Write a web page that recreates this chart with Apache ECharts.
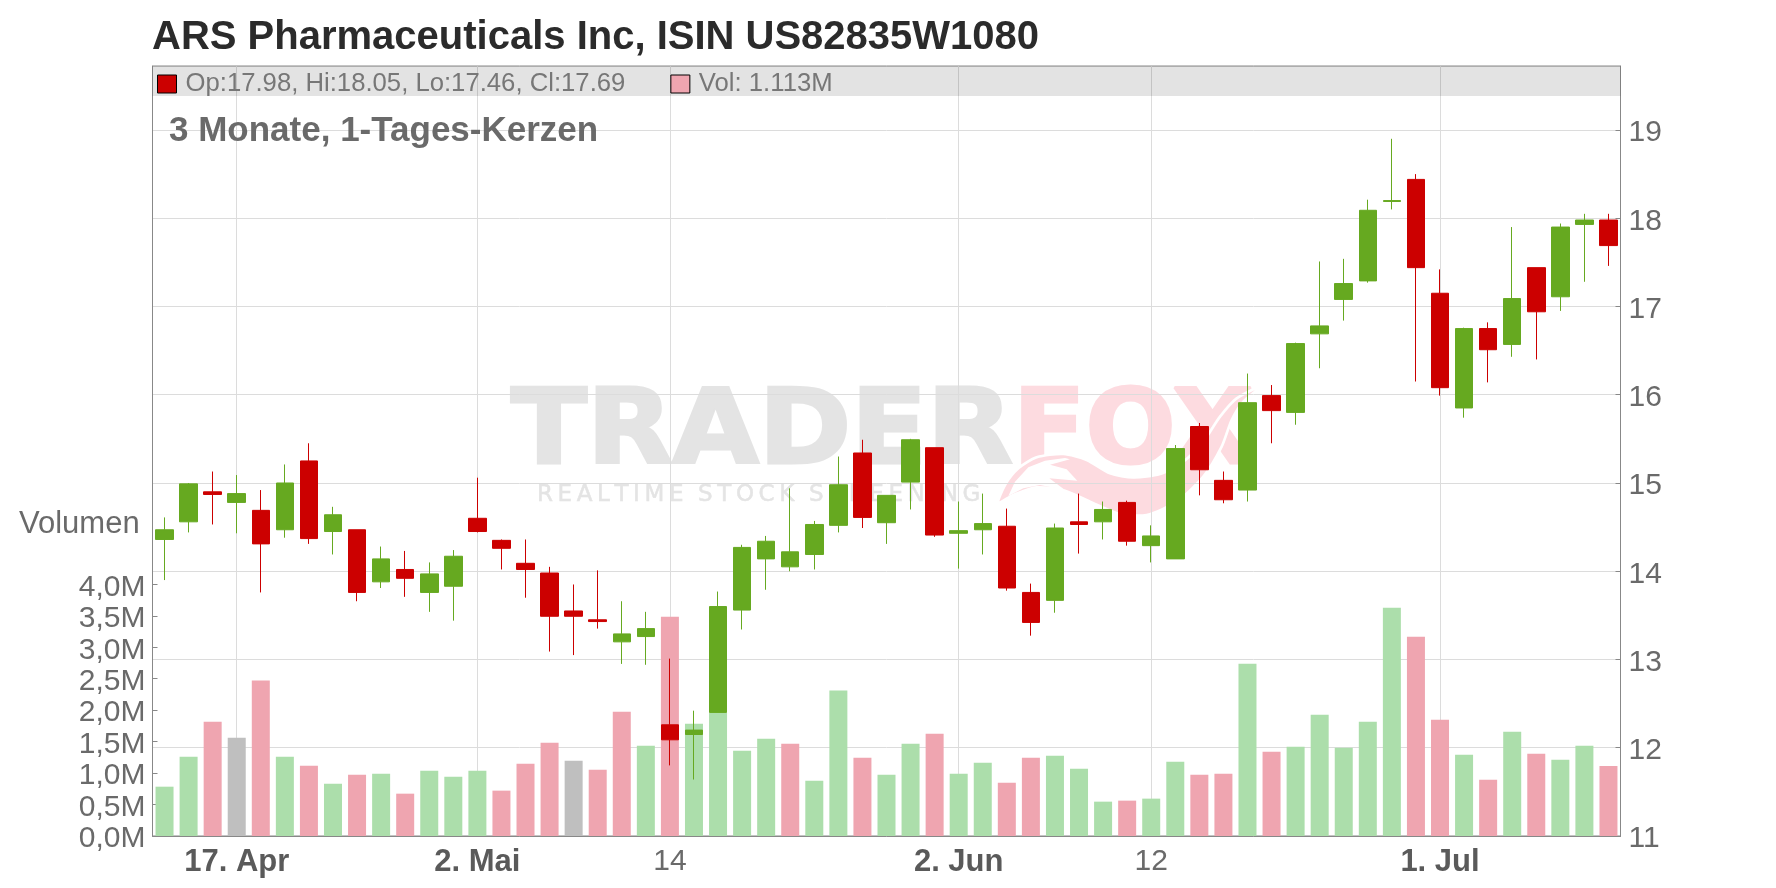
<!DOCTYPE html>
<html>
<head>
<meta charset="utf-8">
<title>ARS Pharmaceuticals Inc</title>
<script src="https://cdn.jsdelivr.net/npm/echarts@6/dist/echarts.min.js"></script>
<style>
  html, body { margin: 0; padding: 0; background: #fff; }
  #main { width: 1776px; height: 888px; }
</style>
</head>
<body>
<div id="main"></div>
<script>
const days = [
  '14. Apr', '15. Apr', '16. Apr', '17. Apr', '21. Apr', '22. Apr', '23. Apr', '24. Apr', '25. Apr', '28. Apr',
  '29. Apr', '30. Apr', '1. Mai', '2. Mai', '5. Mai', '6. Mai', '7. Mai', '8. Mai', '9. Mai', '12. Mai',
  '13. Mai', '14. Mai', '15. Mai', '16. Mai', '19. Mai', '20. Mai', '21. Mai', '22. Mai', '23. Mai', '27. Mai',
  '28. Mai', '29. Mai', '30. Mai', '2. Jun', '3. Jun', '4. Jun', '5. Jun', '6. Jun', '9. Jun', '10. Jun',
  '11. Jun', '12. Jun', '13. Jun', '16. Jun', '17. Jun', '18. Jun', '20. Jun', '23. Jun', '24. Jun', '25. Jun',
  '26. Jun', '27. Jun', '30. Jun', '1. Jul', '2. Jul', '3. Jul', '7. Jul', '8. Jul', '9. Jul', '10. Jul', '11. Jul'
];
const opens = [
  14.36, 14.56, 14.90, 14.78, 14.69, 14.47, 15.25, 14.45, 14.47, 13.88,
  14.02, 13.76, 13.83, 14.60, 14.35, 14.09, 13.98, 13.55, 13.45, 13.20,
  13.26, 12.26, 12.15, 12.40, 13.56, 14.14, 14.05, 14.19, 14.52, 15.34,
  14.55, 15.01, 15.40, 14.43, 14.47, 14.51, 13.76, 13.67, 14.56, 14.56,
  14.78, 14.29, 14.14, 15.64, 15.03, 14.92, 15.99, 15.80, 16.69, 17.08,
  17.29, 18.19, 18.44, 17.15, 15.85, 16.75, 16.57, 17.44, 17.11, 17.93, 17.98
];
const closes = [
  14.47, 14.99, 14.87, 14.88, 14.31, 15.00, 14.37, 14.64, 13.76, 14.14,
  13.92, 13.97, 14.17, 14.45, 14.26, 14.02, 13.49, 13.49, 13.43, 13.29,
  13.35, 12.09, 12.20, 13.60, 14.27, 14.34, 14.22, 14.53, 14.98, 14.61,
  14.86, 15.49, 14.41, 14.46, 14.54, 13.81, 13.42, 14.49, 14.53, 14.70,
  14.34, 14.40, 15.39, 15.15, 14.81, 15.91, 15.82, 16.58, 16.78, 17.26,
  18.09, 18.20, 17.44, 16.08, 16.75, 16.51, 17.09, 16.94, 17.90, 17.98, 17.69
];
const lows = [
  13.90, 14.44, 14.53, 14.43, 13.76, 14.38, 14.31, 14.19, 13.66, 13.81,
  13.71, 13.54, 13.44, 14.44, 14.02, 13.70, 13.09, 13.05, 13.35, 12.95,
  12.94, 11.80, 11.64, 12.40, 13.34, 13.79, 14.00, 14.02, 14.44, 14.49,
  14.31, 14.70, 14.39, 14.03, 14.19, 13.78, 13.27, 13.53, 14.20, 14.36,
  14.29, 14.10, 14.14, 14.86, 14.77, 14.79, 15.45, 15.66, 16.30, 16.84,
  17.27, 18.10, 16.15, 15.99, 15.74, 16.14, 16.43, 16.40, 16.95, 17.28, 17.46
];
const highs = [
  14.61, 15.00, 15.13, 15.09, 14.92, 15.21, 15.45, 14.73, 14.47, 14.28,
  14.23, 14.10, 14.24, 15.06, 14.36, 14.36, 14.05, 13.85, 14.01, 13.66,
  13.54, 13.01, 12.42, 13.77, 14.30, 14.40, 14.94, 14.57, 15.30, 15.49,
  14.86, 15.50, 15.40, 14.79, 14.88, 14.71, 13.86, 14.54, 14.88, 14.79,
  14.80, 14.52, 15.43, 15.68, 15.13, 16.24, 16.11, 16.59, 17.51, 17.54,
  18.21, 18.90, 18.50, 17.42, 16.76, 16.82, 17.90, 17.44, 17.94, 18.05, 18.05
];
const volumes = [
  0.784, 1.261, 1.818, 1.563, 2.470, 1.261, 1.118, 0.832, 0.975, 0.991,
  0.673, 1.039, 0.943, 1.039, 0.721, 1.150, 1.484, 1.198, 1.055, 1.977,
  1.436, 3.487, 1.786, 1.961, 1.357, 1.547, 1.468, 0.880, 2.311, 1.245,
  0.975, 1.468, 1.627, 0.991, 1.166, 0.848, 1.245, 1.277, 1.070, 0.546,
  0.562, 0.594, 1.182, 0.975, 0.991, 2.740, 1.341, 1.420, 1.929, 1.404,
  1.818, 3.630, 3.169, 1.849, 1.293, 0.896, 1.659, 1.309, 1.214, 1.436, 1.113
];
// g = up volume, r = down volume, n = neutral
const volumeTones = [
  'g', 'g', 'r', 'n', 'r', 'g', 'r', 'g', 'r', 'g',
  'r', 'g', 'g', 'g', 'r', 'r', 'r', 'n', 'r', 'r',
  'g', 'r', 'g', 'g', 'g', 'g', 'r', 'g', 'g', 'r',
  'g', 'g', 'r', 'g', 'g', 'r', 'r', 'g', 'g', 'g',
  'r', 'g', 'g', 'r', 'r', 'g', 'r', 'g', 'g', 'g',
  'g', 'g', 'r', 'r', 'g', 'r', 'g', 'r', 'g', 'g', 'r'
];
const priceTicks = [11, 12, 13, 14, 15, 16, 17, 18, 19];
const volumeTicks = [0, 0.5, 1, 1.5, 2, 2.5, 3, 3.5, 4];
const boldTicks = ['17. Apr', '2. Mai', '2. Jun', '1. Jul'];
const plainTicks = { '14. Mai': '14', '12. Jun': '12' };

const titleText = 'ARS Pharmaceuticals Inc, ISIN US82835W1080';
const rangeText = '3 Monate, 1-Tages-Kerzen';
const volumeText = 'Volumen';
const ohlcText = 'Op:17.98, Hi:18.05, Lo:17.46, Cl:17.69';
const volText = 'Vol: 1.113M';

const RED = '#cc0000';
const GREEN = '#66a920';
const toneColors = { g: '#acdeab', r: '#efa5b0', n: '#bfbfbf' };
const GRIDLINE = '#dcdcdc';
const FRAME = '#888888';
const FONT = '"Liberation Sans", Arial, sans-serif';

const isTick = (i) => boldTicks.includes(days[i]) || days[i] in plainTicks;

const candles = days.map((d, i) => [opens[i], closes[i], lows[i], highs[i]]);
const volumeBars = days.map((d, i) => ({
  value: volumes[i],
  itemStyle: { color: toneColors[volumeTones[i]] }
}));

const pinkWm = '#fddbe0';
const greyWm = '#e4e4e4';
const option = {
  animation: false,
  backgroundColor: '#fff',
  textStyle: { fontFamily: FONT },
  title: [
    { text: titleText, left: 152, top: 18, padding: 0, textStyle: { fontFamily: FONT, fontSize: 40, fontWeight: 'bold', color: '#2b2b2b' } },
    { text: rangeText, left: 169, top: 114, padding: 0, textStyle: { fontFamily: FONT, fontSize: 35, fontWeight: 'bold', color: '#6a6a6a' } },
    { text: volumeText, left: 19, top: 509, padding: 0, textStyle: { fontFamily: FONT, fontSize: 31, fontWeight: 'normal', color: '#6a6a6a' } }
  ],
  legend: {
    left: 152,
    top: 66,
    selectedMode: false,
    itemWidth: 19,
    itemHeight: 18,
    itemGap: 45,
    textStyle: { fontFamily: FONT, fontSize: 25.7, color: '#777777', padding: [0, 0, 0, 4] },
    data: [
      { name: ohlcText, icon: 'rect', itemStyle: { color: RED, borderColor: '#000', borderWidth: 1 } },
      { name: volText, icon: 'rect', itemStyle: { color: toneColors.r, borderColor: '#000', borderWidth: 1 } }
    ]
  },
  grid: {
    left: 152.5, right: 155.5, top: 66, bottom: 52,
    show: true, borderColor: FRAME, borderWidth: 1, backgroundColor: 'transparent'
  },
  xAxis: {
    type: 'category',
    data: days,
    boundaryGap: true,
    axisLine: { lineStyle: { color: FRAME } },
    axisTick: { alignWithLabel: true, length: 3, interval: (i) => isTick(i), lineStyle: { color: FRAME } },
    splitLine: { show: true, alignWithLabel: true, interval: (i) => isTick(i), lineStyle: { color: GRIDLINE } },
    axisLabel: {
      interval: (i) => isTick(i),
      margin: 11,
      formatter: (v) => (v in plainTicks ? '{n|' + plainTicks[v] + '}' : '{b|' + v + '}'),
      rich: {
        b: { fontFamily: FONT, fontSize: 31, fontWeight: 'bold', color: '#5a5a5a' },
        n: { fontFamily: FONT, fontSize: 30, color: '#6a6a6a' }
      }
    }
  },
  yAxis: [
    {
      type: 'value',
      position: 'right',
      min: 11,
      max: 19.725,
      interval: 1,
      axisLine: { show: true, lineStyle: { color: FRAME } },
      axisTick: { show: true, inside: true, length: 5, customValues: priceTicks, lineStyle: { color: FRAME } },
      splitLine: { show: true, lineStyle: { color: GRIDLINE } },
      axisLabel: { customValues: priceTicks, fontFamily: FONT, fontSize: 30, color: '#6a6a6a', margin: 8, verticalAlign: 'top', lineHeight: 6, formatter: (v) => String(v) }
    },
    {
      type: 'value',
      position: 'left',
      min: 0,
      max: 12.24,
      interval: 0.5,
      axisLine: { show: true, lineStyle: { color: FRAME } },
      axisTick: { show: true, inside: true, length: 5, customValues: volumeTicks, lineStyle: { color: FRAME } },
      splitLine: { show: false },
      axisLabel: { customValues: volumeTicks, fontFamily: FONT, fontSize: 30, color: '#6a6a6a', margin: 7, verticalAlign: 'top', lineHeight: 6, formatter: (v) => v.toFixed(1).replace('.', ',') + 'M' }
    }
  ],
  series: [
    {
      name: volText,
      type: 'bar',
      yAxisIndex: 1,
      barWidth: 18,
      z: 2,
      silent: true,
      data: volumeBars
    },
    {
      name: ohlcText,
      type: 'candlestick',
      yAxisIndex: 0,
      barWidth: 18,
      z: 3,
      silent: true,
      itemStyle: { color: GREEN, color0: RED, borderColor: GREEN, borderColor0: RED, borderWidth: 1 },
      data: candles
    }
  ],
  graphic: [
    // legend strip over the gridlines
    { type: 'rect', z: 1, silent: true, shape: { x: 152.5, y: 66, width: 1468, height: 30 }, style: { fill: 'rgba(0,0,0,0.11)' } },
    // watermark
    { type: 'text', z: -10, silent: true, x: 511, y: 384, scaleX: 1.07, style: { text: 'TRADER', font: 'bold 104px "DejaVu Sans"', fill: greyWm, stroke: greyWm, lineWidth: 3 } },
    { type: 'text', z: -10, silent: true, x: 1013, y: 384, scaleX: 1.02, style: { text: 'FOX', font: 'bold 104px "DejaVu Sans"', fill: pinkWm, stroke: pinkWm, lineWidth: 3 } },
    { type: 'text', z: -10, silent: true, x: 537, y: 484, style: { text: 'R\u2009E\u2009A\u2009L\u2009T\u2009I\u2009M\u2009E  S\u2009T\u2009O\u2009C\u2009K  S\u2009C\u2009R\u2009E\u2009E\u2009N\u2009I\u2009N\u2009G', font: '23px "DejaVu Sans"', fill: '#e4e4e4', stroke: '#e4e4e4', lineWidth: 0.5 } },
    {
      type: 'group', x: 990, y: 370, scaleX: 1 / 3, scaleY: 1 / 3, silent: true,
      children: [
        {
          type: 'polygon', z: -9, silent: true,
          shape: { smooth: 0.25, points: [[25, 398], [45, 345], [85, 295], [140, 262], [220, 252], [290, 270], [360, 310], [430, 322], [510, 312], [580, 275], [640, 215], [690, 140], [740, 85], [815, 48], [760, 95], [725, 150], [695, 230], [640, 320], [560, 395], [470, 435], [390, 432], [300, 395], [225, 362], [140, 352], [70, 375]] },
          style: { fill: pinkWm, stroke: '#fff', lineWidth: 8 }
        },
        {
          type: 'polygon', z: -8, silent: true,
          shape: { points: [[55, 378], [75, 335], [115, 292], [165, 272], [225, 264], [240, 268], [180, 284], [230, 298], [262, 332], [178, 325], [225, 360], [150, 345], [100, 355]] },
          style: { fill: '#fff' }
        }
      ]
    }
  ]
};

echarts.init(document.getElementById('main')).setOption(option);
</script>
</body>
</html>
